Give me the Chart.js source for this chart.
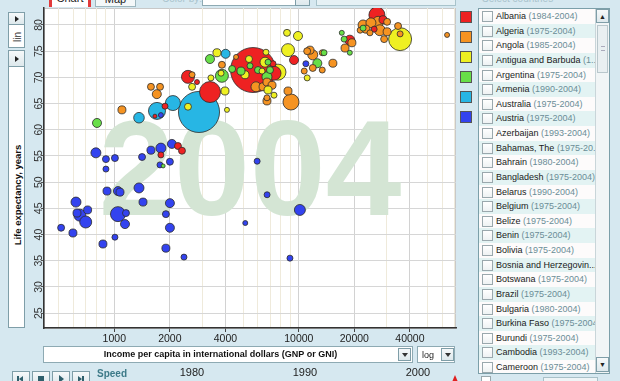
<!DOCTYPE html>
<html lang="en">
<head>
<meta charset="UTF-8">
<title>Life expectancy vs income, 2004</title>
<script src="https://cdn.jsdelivr.net/npm/chart.js"></script>
<style>
  body {
    margin: 0;
    width: 620px;
    height: 381px;
    overflow: hidden;
    position: relative;
    background: #d6e8f0;
    font-family: "Liberation Sans", Arial, sans-serif;
    color: #222;
  }
  .abs { position: absolute; box-sizing: border-box; }
  .rot {
    position: absolute;
    transform: translate(-50%, -50%) rotate(-90deg);
    white-space: nowrap;
  }
  .btn {
    background: linear-gradient(#f6f9fa, #dde8ec);
    border: 1px solid #7f9ea8;
  }
  .tri-r { width: 0; height: 0; border-top: 3px solid transparent; border-bottom: 3px solid transparent; border-left: 4px solid #222; position: absolute; }
  .tri-d { width: 0; height: 0; border-left: 3px solid transparent; border-right: 3px solid transparent; border-top: 4px solid #333; position: absolute; }
  #chartBox { position: absolute; left: 26px; top: 0; width: 432px; height: 352px; }
  .swatch { position: absolute; left: 460px; width: 12px; height: 12px; border: 1px solid #555; box-sizing: border-box; }
  #list { left: 478px; top: 8px; width: 132px; height: 366px; background: #fff; border: 1px solid #7c9fa9; overflow: hidden; }
  .row { position: relative; height: 14.625px; width: 117px; font-size: 9px; line-height: 14.625px; white-space: nowrap; overflow: hidden; }
  .row .cb { position: absolute; left: 3px; top: 2px; width: 11px; height: 11px; box-sizing: border-box; border: 1px solid #9aa8ad; background: linear-gradient(#fff, #eef2f3); }
  .row .nm { position: absolute; left: 17px; top: 0; color: #1a1a1a; }
  .row .yr { color: #6b8d97; }
  #scroll { right: 0; top: 0; width: 14px; height: 364px; background: #f1f5f6; border-left: 1px solid #c9d5d9; }
</style>
</head>
<body>

<!-- top tabs (cut off by the window edge) -->
<div class="abs" style="left:49px;top:-12px;width:42px;height:19px;background:#fff;border-left:3px solid #e23a3a;border-right:3px solid #e23a3a;font-size:11px;text-align:center;line-height:20px;">Chart</div>
<div class="abs" style="left:95px;top:-12px;width:41px;height:19px;background:#f4f8f9;border:1px solid #9db6be;font-size:11px;text-align:center;line-height:20px;">Map</div>
<div class="abs" style="left:162px;top:-7px;font-size:10px;color:#a9c3cc;">Color by:</div>
<div class="abs" style="left:202px;top:-10px;width:108px;height:16px;background:#fff;border:1px solid #8eaab3;"></div>
<div class="abs btn" style="left:295px;top:-10px;width:15px;height:16px;"></div>
<div class="abs" style="left:316px;top:-10px;width:140px;height:16px;background:#e6f1f5;border:1px solid #a8c3cb;"></div>
<div class="abs" style="left:482px;top:-7px;font-size:10px;color:#a9c3cc;">Select countries</div>

<!-- left axis controls -->
<div class="abs" style="left:8px;top:12px;width:17px;height:36px;background:#fff;border:1px solid #7f9ea8;"></div>
<div class="abs btn" style="left:8px;top:12px;width:17px;height:13px;"><div class="tri-r" style="left:6px;top:3px;"></div></div>
<div class="rot" style="left:16.5px;top:37px;font-size:10px;color:#333;">lin</div>
<div class="abs" style="left:8px;top:50px;width:17px;height:278px;background:#fff;border:1px solid #7f9ea8;"></div>
<div class="abs btn" style="left:8px;top:50px;width:17px;height:17px;"><div class="tri-r" style="left:6px;top:5px;"></div></div>
<div class="rot" style="left:16.5px;top:195px;font-size:9.5px;font-weight:bold;color:#111;">Life expectancy, years</div>

<div id="chartBox"><canvas id="bubbleChart"></canvas></div>

<!-- region colour keys -->
<div class="swatch" style="top:11px;background:#ee2222;"></div>
<div class="swatch" style="top:31px;background:#f59322;"></div>
<div class="swatch" style="top:51px;background:#eef022;"></div>
<div class="swatch" style="top:71px;background:#68df48;"></div>
<div class="swatch" style="top:91px;background:#27b6e4;"></div>
<div class="swatch" style="top:111px;background:#3343ef;"></div>

<!-- country list -->
<div id="list" class="abs">
  <div id="rows"></div>
  <div id="scroll" class="abs">
    <div class="abs btn" style="left:0;top:0;width:13px;height:14px;font-size:7px;text-align:center;line-height:13px;">&#9650;</div>
    <div class="abs" style="left:1px;top:16px;width:11px;height:48px;background:#e9eff1;border:1px solid #b9c7cc;">
      <div class="abs" style="left:3px;top:20px;width:4px;height:5px;border-top:1px solid #aab;border-bottom:1px solid #aab;"></div>
    </div>
    <div class="abs btn" style="left:0;top:348px;width:13px;height:15px;font-size:7px;text-align:center;line-height:14px;">&#9660;</div>
  </div>
</div>

<!-- x axis title and scale chooser -->
<div class="abs" style="left:43px;top:346px;width:370px;height:17px;background:#fff;border:1px solid #8eaab3;"></div>
<div class="abs" style="left:43px;top:346px;width:355px;height:17px;font-size:9px;font-weight:bold;text-align:center;line-height:16px;color:#111;">Income per capita in international dollars (GNP or GNI)</div>
<div class="abs btn" style="left:398px;top:348px;width:13px;height:13px;"><div class="tri-d" style="left:3px;top:4px;"></div></div>
<div class="abs" style="left:417px;top:346px;width:38px;height:17px;background:#fff;border:1px solid #8eaab3;font-size:9px;line-height:16px;padding-left:4px;">log</div>
<div class="abs btn" style="left:441px;top:348px;width:13px;height:13px;"><div class="tri-d" style="left:3px;top:4px;"></div></div>

<!-- play controls and timeline -->
<div class="abs btn" style="left:12px;top:371px;width:18px;height:14px;"></div>
<div class="abs btn" style="left:32px;top:371px;width:18px;height:14px;"></div>
<div class="abs btn" style="left:52px;top:371px;width:18px;height:14px;"></div>
<div class="abs btn" style="left:72px;top:371px;width:18px;height:14px;"></div>
<div class="abs" style="left:17px;top:376px;width:2px;height:6px;background:#2f5f6c;"></div>
<div class="abs" style="left:19px;top:376px;border-top:3px solid transparent;border-bottom:3px solid transparent;border-right:4px solid #2f5f6c;"></div>
<div class="abs" style="left:38px;top:376px;width:6px;height:6px;background:#2f5f6c;"></div>
<div class="abs" style="left:59px;top:375px;border-top:4px solid transparent;border-bottom:4px solid transparent;border-left:5px solid #2f5f6c;"></div>
<div class="abs" style="left:78px;top:376px;border-top:3px solid transparent;border-bottom:3px solid transparent;border-left:4px solid #2f5f6c;"></div>
<div class="abs" style="left:82px;top:376px;width:2px;height:6px;background:#2f5f6c;"></div>
<div class="abs" style="left:97px;top:368px;font-size:10px;font-weight:bold;color:#3d7a88;">Speed</div>
<div id="timeline"></div>
<div class="abs" style="left:452px;top:375px;border-left:3px solid transparent;border-right:3px solid transparent;border-bottom:7px solid #e02020;"></div>
<div class="abs" style="left:481px;top:376px;width:10px;height:10px;background:#fff;border:1px solid #9aa8ad;"></div>
<div class="abs" style="left:543px;top:377px;width:55px;height:10px;background:#eef4f6;border:1px solid #a8c0c8;"></div>

<script>
  // year shown
  const yearLabel = '2004';

  // axis ticks
  const xGridValues = [500, 600, 700, 800, 900, 1000, 2000, 3000, 4000, 5000, 6000, 7000, 8000, 9000,
                       10000, 20000, 30000, 40000, 50000, 60000, 70000];
  const xTickLabels = [1000, 2000, 4000, 10000, 20000, 40000];
  const yTickValues = [25, 30, 35, 40, 45, 50, 55, 60, 65, 70, 75, 80];

  // timeline labels
  const timelineYears = ['1980', '1990', '2000'];

  // Sub-Saharan Africa (blue)
  const africaIncome = [795, 901, 1008, 901, 1414, 1580, 1789, 2052, 2002, 1768, 913, 1047, 1074, 1361,
                        620, 628, 651, 700, 717, 515, 597, 868, 1008, 1431, 1047, 1157, 1143, 2002, 1904,
                        2002, 1904, 2386, 5126, 6731, 10135, 8954, 5945, 10920, 1789];
  const africaLife = [55.6, 54.4, 54.6, 52.5, 54.8, 56.1, 56.5, 57.3, 53.9, 53.3, 48.3, 48.3, 48.1, 48.9,
                      46.2, 44.1, 43.7, 42.4, 44.7, 41.3, 40.3, 38.2, 39.5, 46.2, 43.9, 44.1, 42.0, 46.0, 43.9,
                      41.3, 37.4, 35.7, 42.2, 47.6, 44.7, 35.5, 54.0, 72.6, 62.8];
  const africaPop = [64, 31, 31, 23, 31, 41, 64, 52, 31, 23, 41, 52, 41, 64,
                     64, 41, 92, 92, 41, 31, 41, 41, 23, 41, 144, 31, 52, 52, 31,
                     52, 41, 23, 16, 23, 77, 23, 23, 23, 16];

  // South Asia (cyan)
  const southAsiaIncome = [2878, 2078, 1704, 1361, 4011];
  const southAsiaLife = [63.4, 65.1, 63.6, 62.3, 74.5];
  const southAsiaPop = [1080, 144, 185, 72, 52];

  // East Asia & Pacific (red)
  const eastAsiaIncome = [5650, 3302, 2508, 2807, 1883, 1661, 1789, 2214, 2327, 9420, 7340, 7250, 26500, 25600, 18900, 28600];
  const eastAsiaLife = [71.4, 67.2, 70.1, 69.1, 64.5, 62.6, 55.2, 56.9, 56.0, 73.3, 70.8, 72.6, 81.9, 79.2, 77.1, 81.0];
  const eastAsiaPop = [1296, 282, 108, 16, 23, 10, 23, 31, 31, 52, 125, 23, 164, 23, 64, 41];

  // Europe & Central Asia (orange)
  const europeIncome = [9070, 6720, 1100, 1580, 1770, 1700, 2640, 3830, 4570, 5860, 6400, 6720, 7160, 8740,
                        6720, 10700, 11100, 11500, 11900, 13400, 11900, 13400, 15300, 17800, 19400, 22300,
                        24600, 26900, 30100, 23100, 27500, 30100, 29000, 24300, 21500, 34500, 35400, 63600];
  const europeLife = [65.3, 65.5, 63.8, 68.2, 68.2, 66.8, 70.5, 72.4, 73.9, 68.2, 68.2, 69.1, 68.5, 67.4,
                      66.1, 71.2, 75.0, 75.2, 74.3, 74.7, 71.8, 71.4, 72.7, 75.6, 76.6, 80.0,
                      80.4, 80.6, 80.6, 79.2, 79.0, 78.7, 77.3, 78.5, 79.0, 79.8, 78.3, 78.1];
  const europePop = [164, 41, 41, 31, 31, 52, 23, 31, 16, 64, 41, 41, 41, 41,
                     23, 23, 31, 41, 64, 23, 31, 23, 41, 41, 41, 64,
                     64, 77, 31, 41, 77, 41, 31, 23, 23, 31, 23, 16];

  // America (yellow)
  const americaIncome = [35400, 8630, 9900, 8740, 7710, 2508, 4080, 3980, 3340, 2640, 3600, 6640, 6810, 11100,
                         5370, 6560, 6320, 5110, 3790, 7340];
  const americaLife = [77.3, 78.5, 77.9, 75.2, 71.0, 64.4, 63.8, 67.4, 69.9, 68.2, 74.7, 74.8, 67.6, 69.9,
                       73.5, 72.9, 71.2, 70.5, 70.8, 66.6];
  const americaPop = [338, 31, 52, 108, 164, 31, 16, 41, 23, 31, 41, 23, 41, 23,
                      31, 64, 23, 41, 23, 23];

  // Middle East & North Africa (green)
  const middleEastIncome = [806, 1840, 3300, 3830, 4350, 5440, 6720, 6980, 6010, 6810, 17100, 17600, 18900, 13700, 12600, 22300, 4860];
  const middleEastLife = [61.3, 53.1, 73.5, 70.3, 71.6, 72.2, 70.1, 71.4, 71.4, 72.9, 78.5, 77.3, 74.7, 74.7, 72.7, 79.4, 71.2];
  const middleEastPop = [52, 10, 52, 108, 31, 23, 64, 31, 31, 23, 16, 23, 16, 23, 52, 23, 41];

  // country list on the right
  const countryNames = ['Albania', 'Algeria', 'Angola', 'Antigua and Barbuda', 'Argentina', 'Armenia', 'Australia',
    'Austria', 'Azerbaijan', 'Bahamas, The', 'Bahrain', 'Bangladesh', 'Belarus', 'Belgium', 'Belize', 'Benin',
    'Bolivia', 'Bosnia and Herzegovin...', 'Botswana', 'Brazil', 'Bulgaria', 'Burkina Faso', 'Burundi',
    'Cambodia', 'Cameroon'];
  const countryYears = ['(1984-2004)', '(1975-2004)', '(1985-2004)', '(1...', '(1975-2004)', '(1990-2004)',
    '(1975-2004)', '(1975-2004)', '(1993-2004)', '(1975-20...', '(1980-2004)', '(1975-2004)', '(1990-2004)',
    '(1975-2004)', '(1975-2004)', '(1975-2004)', '(1975-2004)', '', '(1975-2004)', '(1975-2004)',
    '(1980-2004)', '(1975-2004)', '(1975-2004)', '(1993-2004)', '(1975-2004)'];

  // build list rows
  const rowsEl = document.getElementById('rows');
  countryNames.forEach((name, i) => {
    const row = document.createElement('div');
    row.className = 'row';
    row.style.background = i % 2 ? '#e3f3f3' : '#fdfbfb';
    row.innerHTML = '<div class="cb"></div><div class="nm">' + name +
      (countryYears[i] ? ' <span class="yr">' + countryYears[i] + '</span>' : '') + '</div>';
    rowsEl.appendChild(row);
  });

  // timeline labels
  const tl = document.getElementById('timeline');
  timelineYears.forEach((y, i) => {
    const d = document.createElement('div');
    d.className = 'abs';
    d.style.cssText = 'left:' + (172 + i * 113) + 'px;top:366px;width:40px;text-align:center;font-size:11px;color:#222;';
    d.textContent = y;
    tl.appendChild(d);
  });

  // combine regions into one dataset, big bubbles drawn first
  const regions = [
    { income: africaIncome, life: africaLife, pop: africaPop, color: '#3343ef' },
    { income: southAsiaIncome, life: southAsiaLife, pop: southAsiaPop, color: '#27b6e4' },
    { income: eastAsiaIncome, life: eastAsiaLife, pop: eastAsiaPop, color: '#ee2222' },
    { income: europeIncome, life: europeLife, pop: europePop, color: '#f59322' },
    { income: americaIncome, life: americaLife, pop: americaPop, color: '#eef022' },
    { income: middleEastIncome, life: middleEastLife, pop: middleEastPop, color: '#68df48' }
  ];
  const points = [];
  regions.forEach(rg => {
    rg.income.forEach((v, i) => {
      points.push({ x: v, y: rg.life[i], r: Math.max(2, 0.625 * Math.sqrt(rg.pop[i])), color: rg.color });
    });
  });
  points.sort((a, b) => b.r - a.r);

  const plotDecor = {
    id: 'plotDecor',
    beforeDraw(chart) {
      const { ctx, chartArea: a } = chart;
      ctx.save();
      ctx.fillStyle = '#fff';
      ctx.fillRect(a.left, a.top, a.right - a.left, a.bottom - a.top);
      ctx.strokeStyle = '#c8c8c8';
      ctx.lineWidth = 1;
      ctx.strokeRect(a.left + 0.5, a.top + 0.5, a.right - a.left - 1, a.bottom - a.top);
      ctx.restore();
    },
    beforeDatasetsDraw(chart) {
      const { ctx, chartArea: a } = chart;
      ctx.save();
      ctx.font = 'bold 136px "Liberation Sans", Arial, sans-serif';
      ctx.fillStyle = '#d4e5d4';
      ctx.textAlign = 'center';
      ctx.textBaseline = 'alphabetic';
      ctx.fillText(yearLabel, a.left + 206, a.top + 207);
      ctx.restore();
    }
  };

  new Chart(document.getElementById('bubbleChart'), {
    type: 'bubble',
    data: {
      datasets: [{
        data: points.map(p => ({ x: p.x, y: p.y, r: p.r })),
        backgroundColor: points.map(p => p.color),
        borderColor: 'rgba(45,45,45,0.9)',
        borderWidth: 0.9
      }]
    },
    options: {
      responsive: true,
      maintainAspectRatio: false,
      animation: false,
      events: [],
      layout: { autoPadding: false, padding: { top: 8, right: 2, left: 0, bottom: 0 } },
      plugins: { legend: { display: false }, tooltip: { enabled: false } },
      scales: {
        x: {
          type: 'logarithmic',
          min: 416,
          max: 71100,
          afterBuildTicks: s => { s.ticks = xGridValues.map(v => ({ value: v })); },
          afterFit: s => { s.height = 24; },
          ticks: {
            autoSkip: false,
            maxRotation: 0,
            padding: 1,
            color: '#222',
            font: { size: 10.5, family: '"Liberation Sans", Arial, sans-serif' },
            callback: v => xTickLabels.includes(v) ? String(v) : ''
          },
          grid: {
            color: c => xTickLabels.includes(c.tick && c.tick.value) ? '#d2d2d2' : '#efeadb',
            tickColor: c => xTickLabels.includes(c.tick && c.tick.value) ? '#444' : 'rgba(0,0,0,0)',
            tickLength: 4
          },
          border: { color: '#333', width: 1.5 }
        },
        y: {
          min: 22.17,
          max: 83.24,
          afterBuildTicks: s => { s.ticks = yTickValues.map(v => ({ value: v })); },
          afterFit: s => { s.width = 18; },
          ticks: {
            minRotation: 90,
            maxRotation: 90,
            padding: -4,
            crossAlign: 'center',
            color: '#333',
            font: { size: 10.5, family: '"Liberation Sans", Arial, sans-serif' }
          },
          grid: { color: '#d6d6d6', tickColor: '#555', tickLength: 3 },
          border: { color: '#333', width: 1.5 }
        }
      }
    },
    plugins: [plotDecor]
  });
</script>
</body>
</html>
